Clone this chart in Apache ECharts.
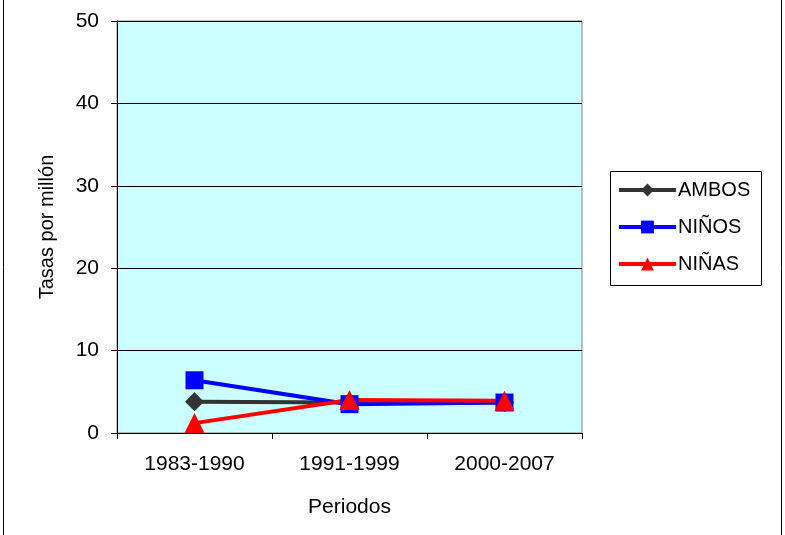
<!DOCTYPE html>
<html><head><meta charset="utf-8">
<script src="https://cdn.jsdelivr.net/npm/echarts@6/dist/echarts.min.js"></script>
<style>html,body{margin:0;padding:0;background:#fff}#c{width:785px;height:535px}</style>
</head><body><div id="c"></div>
<script>
const categories = ['1983-1990', '1991-1999', '2000-2007'];
const ambos = [3.8, 3.7, 3.7];
const ninos = [6.4, 3.5, 3.7];
const ninas = [1.2, 4.0, 3.9];
const yTicks = [0, 10, 20, 30, 40, 50];

const chart = echarts.init(document.getElementById('c'));
const font = 'Liberation Sans, Arial, sans-serif';
chart.setOption({
  animation: false,
  backgroundColor: '#fff',
  grid: {left: 117, top: 21, width: 465, height: 412, show: true, backgroundColor: '#ccffff', borderColor: '#808080', borderWidth: 1},
  graphic: [
    {type: 'line', shape: {x1: 3.5, y1: 0, x2: 3.5, y2: 535}, style: {stroke: '#000', lineWidth: 1}},
    {type: 'line', shape: {x1: 781.5, y1: 0, x2: 781.5, y2: 535}, style: {stroke: '#000', lineWidth: 1}},
    {type: 'rect', shape: {x: 610.5, y: 171.5, width: 151, height: 114}, style: {fill: '#fff', stroke: '#000', lineWidth: 1}, z: 1}
  ],
  xAxis: {
    type: 'category', data: categories, boundaryGap: true,
    name: 'Periodos', nameLocation: 'middle', nameGap: 64,
    nameTextStyle: {fontFamily: font, fontSize: 21, color: '#000'},
    axisLine: {lineStyle: {color: '#000'}},
    axisTick: {show: true, length: 6, lineStyle: {color: '#000'}},
    axisLabel: {fontFamily: font, fontSize: 21, color: '#000', margin: 21}
  },
  yAxis: {
    type: 'value', min: yTicks[0], max: yTicks[yTicks.length - 1], interval: 10,
    name: 'Tasas por millón', nameLocation: 'middle', nameGap: 60,
    nameTextStyle: {fontFamily: font, fontSize: 20, color: '#000'},
    axisLine: {show: true, lineStyle: {color: '#000'}},
    axisTick: {show: true, length: 6, lineStyle: {color: '#000'}},
    axisLabel: {fontFamily: font, fontSize: 21, color: '#000', margin: 18},
    splitLine: {lineStyle: {color: '#000'}}
  },
  legend: {
    orient: 'vertical', left: 617, top: 180, padding: 0, itemGap: 17, itemWidth: 57, itemHeight: 16,
    textStyle: {fontFamily: font, fontSize: 20, color: '#000', padding: [0, 0, 0, -3]},
    lineStyle: {width: 4},
    z: 5,
    data: ['AMBOS', 'NIÑOS', 'NIÑAS']
  },
  series: [
    {name: 'AMBOS', type: 'line', data: ambos, symbol: 'diamond', symbolSize: 19, itemStyle: {color: '#333333'}, lineStyle: {width: 4, color: '#333333'}},
    {name: 'NIÑOS', type: 'line', data: ninos, symbol: 'rect', symbolSize: 18, itemStyle: {color: '#0000ff'}, lineStyle: {width: 4, color: '#0000ff'}},
    {name: 'NIÑAS', type: 'line', data: ninas, symbol: 'triangle', symbolSize: 20, itemStyle: {color: '#ff0000'}, lineStyle: {width: 4, color: '#ff0000'}}
  ]
});
</script></body></html>
